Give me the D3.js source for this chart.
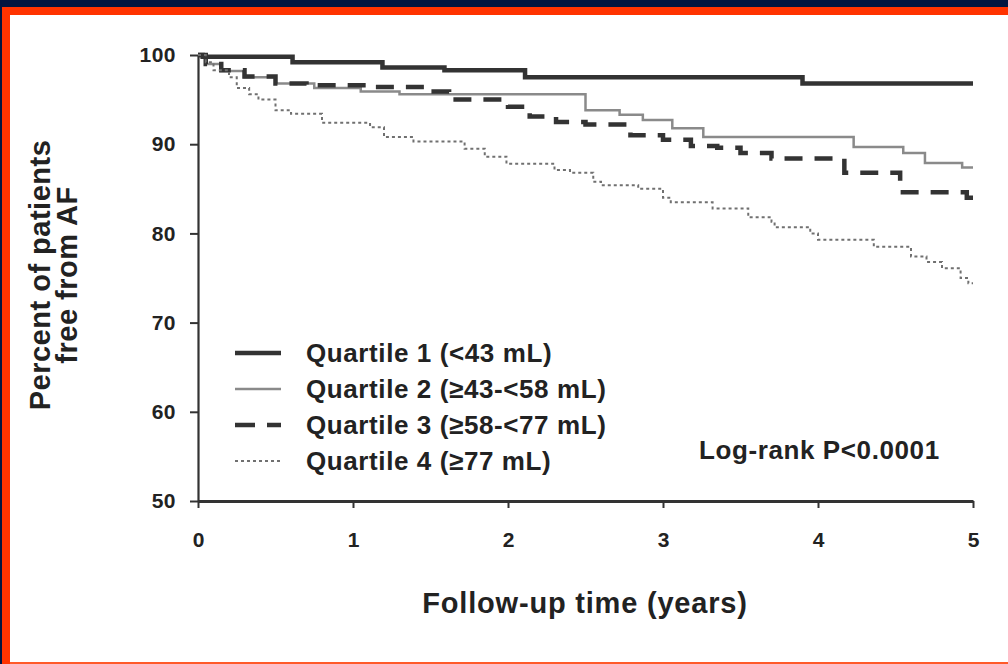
<!DOCTYPE html>
<html>
<head>
<meta charset="utf-8">
<script src="https://cdn.jsdelivr.net/npm/d3@7/dist/d3.min.js"></script>
<style>
  html, body { margin: 0; padding: 0; background: #ffffff; }
  svg { display: block; }
  text { font-family: "Liberation Sans", Arial, sans-serif; font-weight: bold; fill: #222; }
</style>
</head>
<body>
<svg id="chart" width="1008" height="664"></svg>
<script>
// Kaplan–Meier curves: [follow-up years, percent free from AF]
const quartile1 = [[0,100],[0.03,99.8],[0.61,99.2],[1.19,98.6],[1.59,98.3],[2.11,97.5],[3.90,96.8],[5.0,96.8]];
const quartile2 = [[0,100],[0.05,99.0],[0.15,98.2],[0.3,97.5],[0.5,96.8],[0.75,96.3],[1.05,95.9],[1.3,95.6],
  [2.50,93.8],[2.72,93.3],[2.87,92.7],[3.06,91.8],[3.26,90.8],[4.23,89.7],[4.55,89.0],[4.69,87.9],[4.93,87.4],[5.0,87.4]];
const quartile3 = [[0,100],[0.05,99.0],[0.15,98.3],[0.3,97.6],[0.5,96.8],[0.7,96.6],[1.1,96.4],[1.49,95.9],[1.62,95.0],
  [2.0,94.2],[2.14,93.1],[2.31,92.5],[2.5,92.2],[2.79,91.0],[3.0,90.5],[3.18,89.8],[3.35,89.6],[3.5,89.0],[3.7,88.4],
  [4.17,86.8],[4.53,84.6],[4.96,84.0],[5.0,84.0]];
const quartile4 = [[0,100],[0.05,99.2],[0.1,98.3],[0.2,97.5],[0.25,96.3],[0.33,95.6],[0.39,95.0],[0.5,93.8],[0.6,93.4],
  [0.8,92.4],[1.11,91.9],[1.2,90.8],[1.39,90.3],[1.72,89.5],[1.85,88.6],[1.99,87.8],[2.3,87.1],[2.4,86.8],[2.55,85.8],
  [2.6,85.4],[2.84,85.0],[3.0,84.0],[3.05,83.5],[3.32,82.8],[3.55,81.8],[3.7,81.3],[3.72,80.7],[3.95,80.0],[4.0,79.3],
  [4.36,78.5],[4.6,77.4],[4.7,76.8],[4.8,76.1],[4.92,75.0],[4.97,74.4],[5.0,74.4]];

const seriesLabels = ["Quartile 1 (<43 mL)", "Quartile 2 (\u226543-<58 mL)", "Quartile 3 (\u226558-<77 mL)", "Quartile 4 (\u226577 mL)"];
const yearTicks = [0, 1, 2, 3, 4, 5];
const percentTicks = [50, 60, 70, 80, 90, 100];
const yTitleLines = ["Percent of patients", "free from AF"];
const xTitle = "Follow-up time (years)";
const statNote = "Log-rank P<0.0001";

const svg = d3.select("#chart");

// frame: navy band with red border
svg.append("rect").attr("x", 0).attr("y", 0).attr("width", 1008).attr("height", 664).attr("fill", "#001540");
svg.append("rect").attr("x", 2).attr("y", 7).attr("width", 1006).attr("height", 657).attr("fill", "#ff3300");
svg.append("rect").attr("x", 10).attr("y", 15).attr("width", 998).attr("height", 647).attr("fill", "#ffffff");
svg.append("rect").attr("x", 10).attr("y", 662).attr("width", 998).attr("height", 2).attr("fill", "#ff5a2a");

const x = d3.scaleLinear().domain([0, 5]).range([198, 973]);
const y = d3.scaleLinear().domain([50, 100]).range([501, 55]);

const axisFont = sel => sel.attr("font-size", 21).attr("fill", "#222")
  .style("font-family", "'Liberation Sans', Arial, sans-serif").style("font-weight", "bold");

// y axis
const yAxis = svg.append("g").attr("transform", `translate(${x(0)},0)`)
  .call(d3.axisLeft(y).tickValues(percentTicks).tickSize(8).tickPadding(14).tickSizeOuter(0));
yAxis.select(".domain").attr("stroke", "#333").attr("stroke-width", 2.2);
yAxis.selectAll(".tick line").attr("stroke", "#333").attr("stroke-width", 2);
yAxis.selectAll(".tick text").call(axisFont).attr("letter-spacing", 0.5);

// x axis
const xAxis = svg.append("g").attr("transform", `translate(0,${y(50)})`)
  .call(d3.axisBottom(x).tickValues(yearTicks).tickFormat(d3.format("d")).tickSize(7).tickPadding(24).tickSizeOuter(0));
xAxis.select(".domain").attr("stroke", "#333").attr("stroke-width", 3);
xAxis.selectAll(".tick line").attr("stroke", "#333").attr("stroke-width", 2);
xAxis.selectAll(".tick text").call(axisFont);

// axis titles
const yTitle = svg.append("text").attr("transform", "translate(50,275) rotate(-90)")
  .attr("text-anchor", "middle").attr("font-size", 29).attr("letter-spacing", 0.5);
yTitle.selectAll("tspan").data(yTitleLines).join("tspan")
  .attr("x", 0).attr("dy", (d, i) => i === 0 ? 0 : 27).text(d => d);

svg.append("text").attr("x", 585).attr("y", 613).attr("text-anchor", "middle")
  .attr("font-size", 29).attr("letter-spacing", 0.8).text(xTitle);

// curve styles
const styles = [
  { data: quartile1, stroke: "#333", width: 4.5, dash: null },
  { data: quartile2, stroke: "#8a8a8a", width: 2.5, dash: null },
  { data: quartile3, stroke: "#333", width: 4.5, dash: "18,12" },
  { data: quartile4, stroke: "#707070", width: 2, dash: "3,3" }
];

const line = d3.line().x(d => x(d[0])).y(d => y(d[1])).curve(d3.curveStepAfter);

svg.append("g").selectAll("path").data(styles).join("path")
  .attr("d", d => line(d.data))
  .attr("fill", "none")
  .attr("stroke", d => d.stroke)
  .attr("stroke-width", d => d.width)
  .attr("stroke-dasharray", d => d.dash);

// legend
const legendRows = [353, 389, 425, 461];
const legend = svg.append("g");
styles.forEach((s, i) => {
  legend.append("line").attr("x1", 235).attr("x2", 281)
    .attr("y1", legendRows[i]).attr("y2", legendRows[i])
    .attr("stroke", s.stroke).attr("stroke-width", s.width)
    .attr("stroke-dasharray", s.dash ? (i === 2 ? "20,12" : s.dash) : null);
  legend.append("text").attr("x", 306).attr("y", legendRows[i]).attr("dy", "0.36em")
    .attr("font-size", 26).attr("letter-spacing", 0.6).text(seriesLabels[i]);
});

svg.append("text").attr("x", 699).attr("y", 450).attr("dy", "0.36em")
  .attr("font-size", 26).attr("letter-spacing", 0.6).text(statNote);
</script>
</body>
</html>
